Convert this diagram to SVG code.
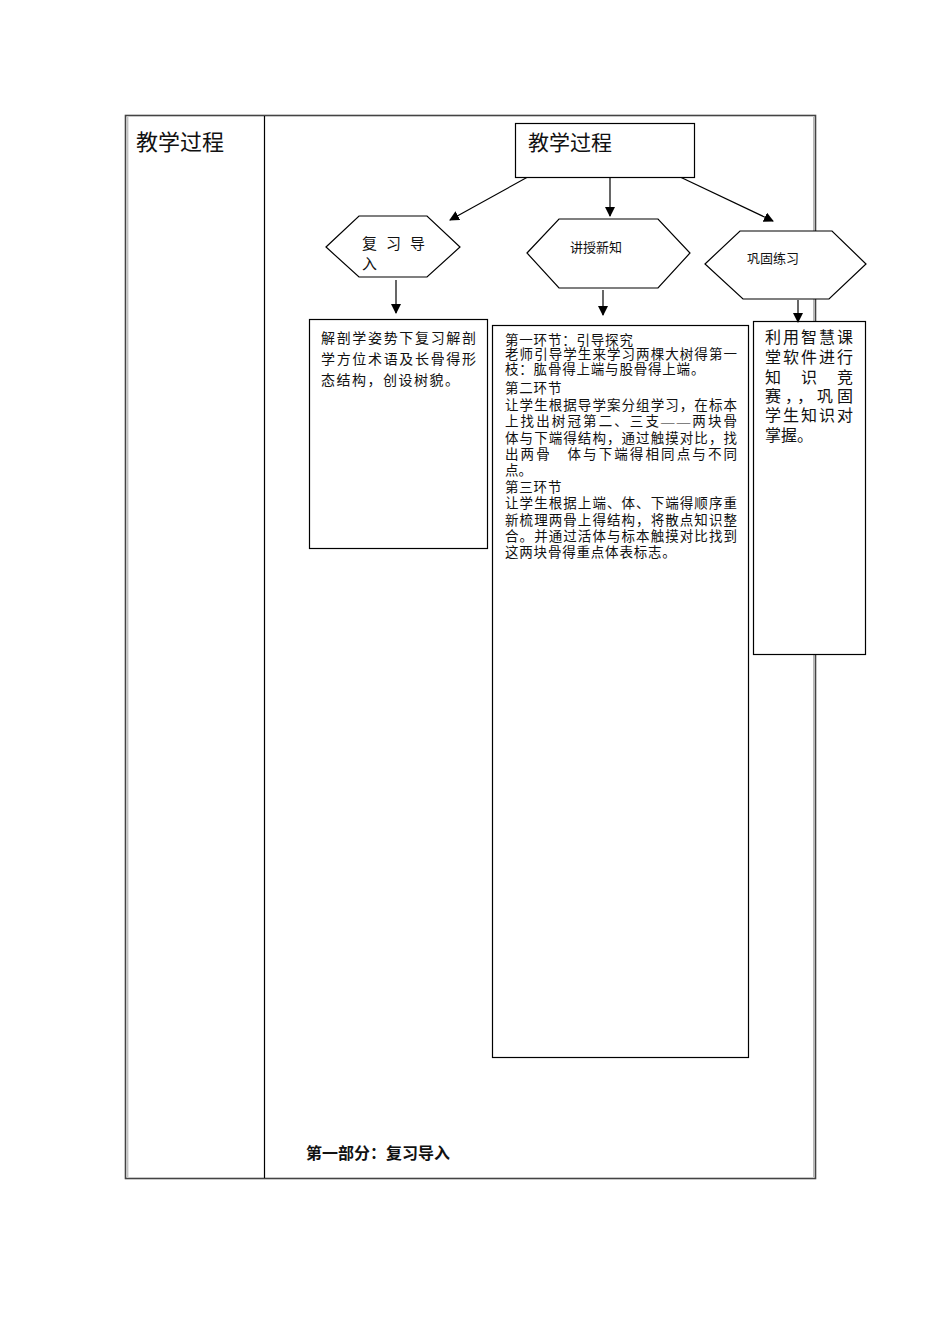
<svg xmlns="http://www.w3.org/2000/svg" width="950" height="1344" viewBox="0 0 950 1344">
<style>
.t{font-family:"Liberation Serif","Noto Sans CJK SC",serif;fill:#111}
.s{fill:#fff;stroke:#000;stroke-width:1.2}
.c{stroke:#000;stroke-width:1.2;fill:none}
</style>
<defs>
<marker id="ah" viewBox="0 0 10 10" refX="9" refY="5" markerWidth="10" markerHeight="10" markerUnits="userSpaceOnUse" orient="auto"><path d="M0,0 L10,5 L0,10 z" fill="#000"/></marker>
</defs>
<rect width="950" height="1344" fill="#fff"/>
<g id="table">
<rect x="125.5" y="115.5" width="690" height="1063" fill="none" stroke="#444" stroke-width="1.6"/>
<line x1="127.8" y1="117" x2="127.8" y2="1177" stroke="#aaa" stroke-width="1"/>
<line x1="813.8" y1="117" x2="813.8" y2="1177" stroke="#999" stroke-width="1"/>
<line x1="264.5" y1="116" x2="264.5" y2="1178" stroke="#000" stroke-width="1.2"/>
<text class="t" x="136" y="150" font-size="22">教学过程</text>
<text class="t" x="306" y="1159" font-size="16" font-weight="bold">第一部分：复习导入</text>
</g>
<g id="connectors">
<line class="c" x1="535" y1="173" x2="450" y2="220" marker-end="url(#ah)"/>
<line class="c" x1="610" y1="175" x2="610" y2="216" marker-end="url(#ah)"/>
<line class="c" x1="678" y1="176" x2="773" y2="221" marker-end="url(#ah)"/>
<line class="c" x1="396" y1="280" x2="396" y2="313" marker-end="url(#ah)"/>
<line class="c" x1="603" y1="290" x2="603" y2="315" marker-end="url(#ah)"/>
</g>
<g id="n-top">
<rect class="s" x="515.5" y="123.5" width="179" height="54"/>
<text class="t" x="528" y="150" font-size="21">教学过程</text>
</g>
<g id="n-hex1">
<polygon class="s" points="326,247 359,216 427,216 460,247 427,277 359,277"/>
<text class="t" x="362" y="249" font-size="15" letter-spacing="9">复习导</text>
<text class="t" x="362" y="269" font-size="15">入</text>
</g>
<g id="n-hex2">
<polygon class="s" points="527,253 559,219 658,219 690,253 658,288 559,288"/>
<text class="t" x="570" y="252" font-size="13">讲授新知</text>
</g>
<g id="n-box1">
<rect class="s" x="309.5" y="319.5" width="178" height="229"/>
<text class="t" font-size="14"><tspan x="321" y="343" textLength="155" lengthAdjust="spacing">解剖学姿势下复习解剖</tspan><tspan x="321" y="364" textLength="155" lengthAdjust="spacing">学方位术语及长骨得形</tspan><tspan x="321" y="385" letter-spacing="1.5">态结构，创设树貌。</tspan></text>
</g>
<g id="n-box2">
<rect class="s" x="492.5" y="325.5" width="256" height="732"/>
<text class="t" font-size="13.5"><tspan x="505" y="345" letter-spacing="0.8">第一环节：引导探究</tspan><tspan x="505" y="359" textLength="232" lengthAdjust="spacing">老师引导学生来学习两棵大树得第一</tspan><tspan x="505" y="374" letter-spacing="0.8">枝：肱骨得上端与股骨得上端。</tspan><tspan x="505" y="393" letter-spacing="0.8">第二环节</tspan><tspan x="505" y="410" textLength="232" lengthAdjust="spacing">让学生根据导学案分组学习，在标本</tspan><tspan x="505" y="426" textLength="232" lengthAdjust="spacing">上找出树冠第二、三支——两块骨</tspan><tspan x="505" y="443" textLength="232" lengthAdjust="spacing">体与下端得结构，通过触摸对比，找</tspan><tspan x="505" y="459" textLength="232" lengthAdjust="spacing">出两骨　体与下端得相同点与不同</tspan><tspan x="505" y="475">点。</tspan><tspan x="505" y="492" letter-spacing="0.8">第三环节</tspan><tspan x="505" y="508" textLength="232" lengthAdjust="spacing">让学生根据上端、体、下端得顺序重</tspan><tspan x="505" y="525" textLength="232" lengthAdjust="spacing">新梳理两骨上得结构，将散点知识整</tspan><tspan x="505" y="541" textLength="232" lengthAdjust="spacing">合。并通过活体与标本触摸对比找到</tspan><tspan x="505" y="557" letter-spacing="0.8">这两块骨得重点体表标志。</tspan></text>
</g>
<g id="n-hex3">
<polygon class="s" points="705,264 740,231 832,231 866,264 829,299 743,299"/>
<text class="t" x="747" y="263" font-size="13">巩固练习</text>
</g>
<g id="n-box3">
<rect class="s" x="753.5" y="321.5" width="112" height="333"/>
<text class="t" font-size="16"><tspan x="765" y="343" textLength="88" lengthAdjust="spacing">利用智慧课</tspan><tspan x="765" y="363" textLength="88" lengthAdjust="spacing">堂软件进行</tspan><tspan x="765" y="383" textLength="88" lengthAdjust="spacing">知识竞</tspan><tspan x="765" y="402" textLength="88" lengthAdjust="spacing">赛，，巩固</tspan><tspan x="765" y="421" textLength="88" lengthAdjust="spacing">学生知识对</tspan><tspan x="765" y="441">掌握。</tspan></text>
</g>
<g id="connectors2">
<line class="c" x1="798" y1="300" x2="798" y2="322" marker-end="url(#ah)"/>
</g>
</svg>
